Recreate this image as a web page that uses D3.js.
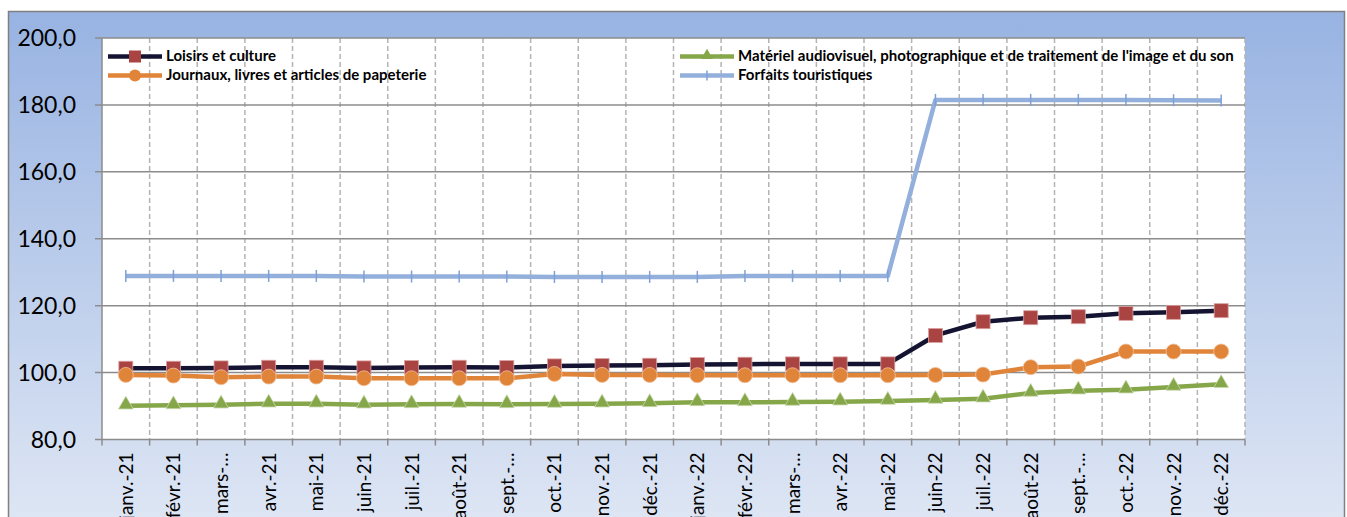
<!DOCTYPE html>
<html>
<head>
<meta charset="utf-8">
<script src="https://cdn.jsdelivr.net/npm/d3@7"></script>
<style>
  body { margin: 0; background: #fff; overflow: hidden; }
  text { font-family: Lato, "Open Sans", sans-serif; fill: #000; }
</style>
</head>
<body>
<svg id="chart" width="1347" height="517"></svg>
<script>
// ---------------------------------------------------------------- //
// Data

var months = ['janv.-21','févr.-21','mars-…','avr.-21','mai-21','juin-21','juil.-21','août-21','sept.-…','oct.-21','nov.-21','déc.-21',
              'janv.-22','févr.-22','mars-…','avr.-22','mai-22','juin-22','juil.-22','août-22','sept.-…','oct.-22','nov.-22','déc.-22'];

var loisirs   = [101.3,101.3,101.4,101.6,101.6,101.4,101.5,101.6,101.5,102.0,102.1,102.2,
                 102.4,102.5,102.6,102.6,102.6,111.1,115.2,116.4,116.7,117.7,118.0,118.5];
var journaux  = [99.3,99.1,98.6,98.8,98.8,98.3,98.3,98.3,98.3,99.6,99.3,99.3,
                 99.2,99.2,99.2,99.2,99.2,99.3,99.4,101.6,101.8,106.3,106.3,106.3];
var materiel  = [90.1,90.2,90.4,90.7,90.7,90.4,90.5,90.6,90.5,90.6,90.7,90.8,
                 91.1,91.1,91.2,91.3,91.5,91.8,92.2,93.9,94.6,94.9,95.7,96.5];
var forfaits  = [128.9,128.9,128.9,128.9,128.9,128.7,128.7,128.7,128.7,128.6,128.6,128.6,
                 128.6,128.9,128.9,128.9,128.9,181.5,181.5,181.5,181.5,181.5,181.4,181.3];

var yTicks = [80,100,120,140,160,180,200];

var seriesNames = ['Loisirs et culture','Journaux, livres et articles de papeterie',
                   "Matériel audiovisuel, photographique et de traitement de l'image et du son",'Forfaits touristiques'];

// ---------------------------------------------------------------- //
// Setup

var svg = d3.select('#chart');
var plot = { left: 102, top: 38, right: 1245, bottom: 439.5 };

// band scale on the month index (labels repeat: 'mars-…', 'sept.-…')
var x = d3.scaleBand().domain(d3.range(months.length)).range([plot.left, plot.right]);
var y = d3.scaleLinear().domain([80,200]).range([plot.bottom, plot.top]);
var cx = (d,i) => { return x(i)+x.bandwidth()/2 };

var grad = svg.append('defs').append('linearGradient').attr('id','bg')
  .attr('x1',0).attr('y1',0).attr('x2',0).attr('y2',1);
grad.append('stop').attr('offset','0%').attr('stop-color','#98b3e2');
grad.append('stop').attr('offset','100%').attr('stop-color','#e2e9f5');

// outer chart area
svg.append('rect').attr('x',8.5).attr('y',11.5).attr('width',1336).attr('height',540)
  .attr('fill','url(#bg)').attr('stroke','#808080').attr('stroke-width',1.5);

// plot area
svg.append('rect').attr('x',plot.left).attr('y',plot.top)
  .attr('width',plot.right-plot.left).attr('height',plot.bottom-plot.top).attr('fill','#fff');

// vertical dashed gridlines
svg.append('g').selectAll('line').data(months).enter().append('line')
  .attr('x1', (d,i) => { return x(i)+x.bandwidth() }).attr('x2', (d,i) => { return x(i)+x.bandwidth() })
  .attr('y1', plot.top).attr('y2', plot.bottom)
  .attr('stroke','#b3b3b3').attr('stroke-width',1.5).attr('stroke-dasharray','5,3');

// horizontal gridlines
svg.append('g').selectAll('line').data(yTicks).enter().append('line')
  .attr('x1', plot.left-7).attr('x2', plot.right)
  .attr('y1', (d) => { return y(d) }).attr('y2', (d) => { return y(d) })
  .attr('stroke','#8c8c8c').attr('stroke-width',1.5);

// y axis
svg.append('line').attr('x1',plot.left).attr('x2',plot.left).attr('y1',plot.top).attr('y2',plot.bottom)
  .attr('stroke','#8c8c8c').attr('stroke-width',1.5);
svg.append('g').selectAll('text').data(yTicks).enter().append('text')
  .attr('x', 76).attr('y', (d) => { return y(d)+8 })
  .attr('text-anchor','end').style('font-size','23px')
  .text((d) => { return d.toFixed(1).replace('.',',') });

// x axis ticks + labels
var xTickPos = [plot.left].concat(months.map((d,i) => { return x(i)+x.bandwidth() }));
svg.append('g').selectAll('line').data(xTickPos).enter().append('line')
  .attr('x1', (d) => { return d }).attr('x2', (d) => { return d })
  .attr('y1', plot.bottom).attr('y2', plot.bottom+6)
  .attr('stroke','#8c8c8c').attr('stroke-width',1.5);
svg.append('g').selectAll('text').data(months).enter().append('text')
  .attr('transform', (d,i) => { return 'translate('+(cx(d,i)+7)+','+(plot.bottom+13)+') rotate(-90)' })
  .attr('text-anchor','end').style('font-size','19px')
  .text((d) => { return d });

// ---------------------------------------------------------------- //
// Series

var line_gen = d3.line().x(cx).y((d) => { return y(d) });

function drawLine(data, color, width){
  svg.append('path').datum(data).attr('d', line_gen)
    .attr('fill','none').attr('stroke',color).attr('stroke-width',width).attr('stroke-linejoin','round');
}

// Forfaits touristiques
drawLine(forfaits, '#93afdb', 4.5);
svg.append('g').selectAll('line').data(forfaits).enter().append('line')
  .attr('x1', cx).attr('x2', cx)
  .attr('y1', (d) => { return y(d)-6 }).attr('y2', (d) => { return y(d)+6 })
  .attr('stroke','#7f9fd6').attr('stroke-width',1.5);

// Matériel audiovisuel
drawLine(materiel, '#86a64a', 4.5);
var tri = d3.symbol().type(d3.symbolTriangle).size(95);
svg.append('g').selectAll('path').data(materiel).enter().append('path')
  .attr('d', tri).attr('transform', (d,i) => { return 'translate('+cx(d,i)+','+(y(d)-1)+')' })
  .attr('fill','#86a64a').attr('stroke','#c9d9ad').attr('stroke-width',0.8);

// Loisirs et culture
drawLine(loisirs, '#141432', 4.5);
svg.append('g').selectAll('rect').data(loisirs).enter().append('rect')
  .attr('x', (d,i) => { return cx(d,i)-7 }).attr('y', (d) => { return y(d)-7 })
  .attr('width',14).attr('height',14)
  .attr('fill','#a94442').attr('stroke','#d9a3a2').attr('stroke-width',0.8);

// Journaux, livres et articles de papeterie
drawLine(journaux, '#e0843a', 4.5);
svg.append('g').selectAll('circle').data(journaux).enter().append('circle')
  .attr('cx', cx).attr('cy', (d) => { return y(d) }).attr('r',7.5)
  .attr('fill','#e0843a').attr('stroke','#f0c29c').attr('stroke-width',0.8);

// ---------------------------------------------------------------- //
// Legend

var legend = svg.append('g').style('font-weight','bold').style('font-size','15px');

function legendItem(lx, ly, color, name, marker){
  legend.append('line').attr('x1',lx).attr('x2',lx+54).attr('y1',ly).attr('y2',ly)
    .attr('stroke',color).attr('stroke-width',4.5);
  var mx = lx+27;
  if(marker === 'square'){
    legend.append('rect').attr('x',mx-6).attr('y',ly-6).attr('width',12).attr('height',12).attr('fill','#a94442');
  } else if(marker === 'circle'){
    legend.append('circle').attr('cx',mx).attr('cy',ly).attr('r',6).attr('fill','#e0843a');
  } else if(marker === 'triangle'){
    legend.append('path').attr('d', d3.symbol().type(d3.symbolTriangle).size(60))
      .attr('transform','translate('+mx+','+(ly-1)+')').attr('fill','#86a64a');
  } else {
    legend.append('line').attr('x1',mx).attr('x2',mx).attr('y1',ly-5).attr('y2',ly+5)
      .attr('stroke','#7f9fd6').attr('stroke-width',1.5);
  }
  legend.append('text').attr('x',lx+58).attr('y',ly+4.5).text(name);
}

legendItem(108, 56.5, '#141432', seriesNames[0], 'square');
legendItem(108, 75.5, '#e0843a', seriesNames[1], 'circle');
legendItem(680, 56.5, '#86a64a', seriesNames[2], 'triangle');
legendItem(680, 75.5, '#93afdb', seriesNames[3], 'plus');
</script>
</body>
</html>
